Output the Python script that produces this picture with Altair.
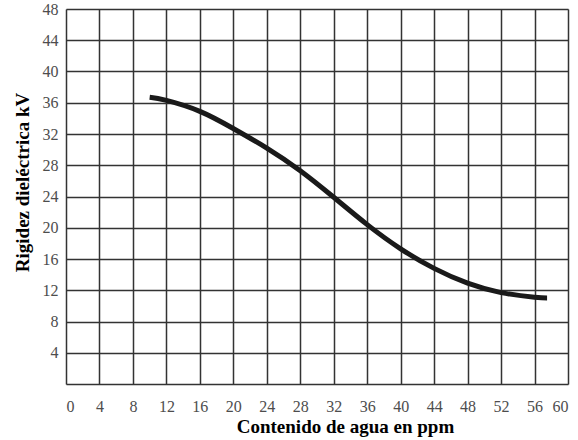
import altair as alt
import pandas as pd

# Data
water_ppm = [10, 12, 16, 20, 24, 28, 32, 36, 40, 44, 48, 52, 56, 57.5]
strength_kv = [36.7, 36.3, 34.9, 32.7, 30.2, 27.3, 23.9, 20.4, 17.3, 14.8, 12.9, 11.7, 11.1, 11.0]
x_ticks = list(range(0, 61, 4))
y_ticks = list(range(0, 49, 4))

df = pd.DataFrame({"x": water_ppm, "y": strength_kv})

label_font = "Liberation Sans Narrow"
title_font = "Liberation Serif"

chart = (
    alt.Chart(df)
    .mark_line(color="#1a1a1a", strokeWidth=5, interpolate="natural", strokeCap="butt")
    .encode(
        x=alt.X(
            "x:Q",
            scale=alt.Scale(domain=[0, 60], nice=False),
            axis=alt.Axis(
                values=x_ticks,
                title="Contenido de agua en ppm",
                grid=True,
                ticks=False,
                domain=False,
                labelPadding=14,
                labelFontSize=16,
                labelFont=label_font,
                labelColor="#4d4d4d",
                titleFont=title_font,
                titleFontSize=19,
                titleFontWeight="bold",
                titleColor="#000000",
                titlePadding=3,
                titleX=279,
                gridColor="#333333",
                gridWidth=1.5,
                gridOpacity=1,
            ),
        ),
        y=alt.Y(
            "y:Q",
            scale=alt.Scale(domain=[0, 48], nice=False),
            axis=alt.Axis(
                values=y_ticks,
                labelExpr="datum.value == 0 ? '' : datum.label",
                title="Rigidez dieléctrica kV",
                grid=True,
                ticks=False,
                domain=False,
                labelPadding=8,
                labelFontSize=16,
                labelFont=label_font,
                labelColor="#4d4d4d",
                titleFont=title_font,
                titleFontSize=19,
                titleFontWeight="bold",
                titleColor="#000000",
                titlePadding=10,
                titleY=173,
                gridColor="#333333",
                gridWidth=1.5,
                gridOpacity=1,
            ),
        ),
    )
    .properties(
        width=502,
        height=375,
        autosize=alt.AutoSizeParams(type="none"),
        padding={"left": 66, "top": 9, "right": 10, "bottom": 56},
    )
    .configure_view(stroke="#333333", strokeWidth=1.5)
    .configure(background="white")
)

chart.save("out.html", embed_options={"renderer": "svg", "actions": False})
